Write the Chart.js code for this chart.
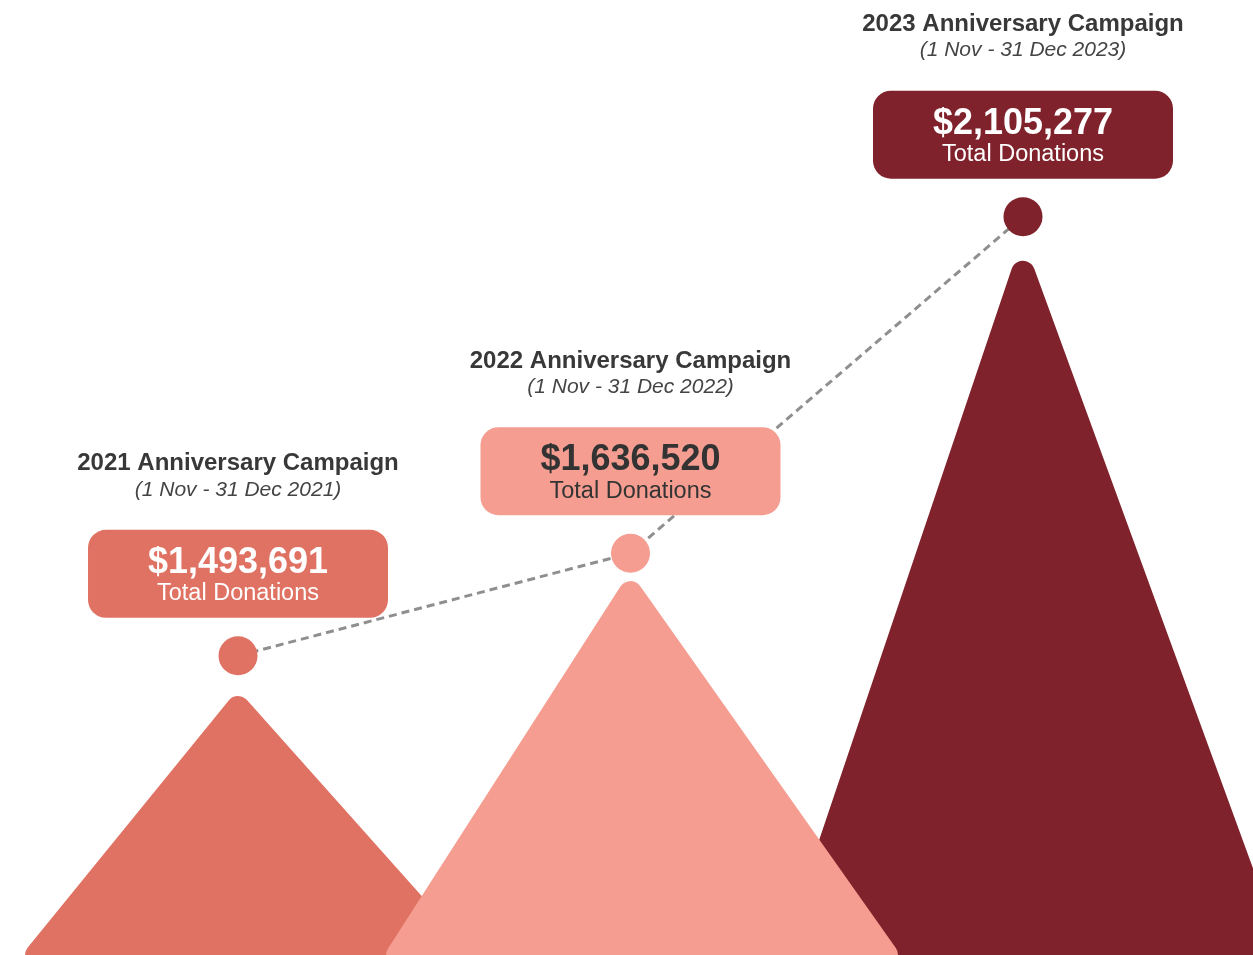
<!DOCTYPE html>
<html>
<head>
<meta charset="utf-8">
<script src="https://cdn.jsdelivr.net/npm/chart.js@4/dist/chart.umd.min.js"></script>
<style>
  html, body { margin: 0; padding: 0; background: #fff; }
  #wrap { width: 1253px; height: 955px; position: relative; }
</style>
</head>
<body>
<div id="wrap"><canvas id="chart"></canvas></div>
<script>
// Campaign data
const campaigns = ['2021 Anniversary Campaign', '2022 Anniversary Campaign', '2023 Anniversary Campaign'];
const periods = ['(1 Nov - 31 Dec 2021)', '(1 Nov - 31 Dec 2022)', '(1 Nov - 31 Dec 2023)'];
const donations = [1493691, 1636520, 2105277];

// Mountain under each campaign: peak height (same $ scale) and base spread left/right of the peak
const peakHeights = [1421000, 1581000, 2027000];
const spreadLeft = [0.512, 0.592, 0.586];
const spreadRight = [0.561, 0.651, 0.634];

const colors = ['#E07263', '#F49D90', '#80222B'];
const valueTextColors = ['#ffffff', '#333333', '#ffffff'];

const Y_MIN = 1077000;
const Y_MAX = 2407000;
const FONT = '"Liberation Sans", Arial, Helvetica, sans-serif';

// front-to-back drawing order of the mountains (middle one sits in front)
const mountainOrder = [2, 1, 3];

const mountainSets = donations.map((_, i) => ({
  label: campaigns[i],
  data: [
    { x: i - spreadLeft[i], y: Y_MIN },
    { x: i, y: peakHeights[i] },
    { x: i + spreadRight[i], y: Y_MIN }
  ],
  backgroundColor: colors[i],
  borderColor: colors[i],
  borderWidth: 24,
  borderJoinStyle: 'round',
  borderCapStyle: 'round',
  pointRadius: 0,
  fill: 'start',
  tension: 0,
  clip: false,
  order: mountainOrder[i]
}));

const trendSet = {
  label: 'Total Donations',
  data: donations.map((v, i) => ({ x: i, y: v })),
  borderColor: '#8f8f8f',
  borderWidth: 3,
  borderDash: [8, 5],
  fill: false,
  pointRadius: 19.5,
  pointHoverRadius: 19.5,
  pointBorderWidth: 0,
  pointBackgroundColor: colors,
  clip: false,
  order: 0
};

// Draw the title + value box above each dot
const labelPlugin = {
  id: 'campaignLabels',
  afterDatasetsDraw(chart) {
    const ctx = chart.ctx;
    const meta = chart.getDatasetMeta(mountainSets.length);
    meta.data.forEach((pt, i) => {
      const cx = pt.x;
      const boxW = 300, boxH = 88;
      const boxBottom = pt.y - 38;
      const boxTop = boxBottom - boxH;

      ctx.save();
      ctx.fillStyle = colors[i];
      ctx.beginPath();
      ctx.roundRect(cx - boxW / 2, boxTop, boxW, boxH, 18);
      ctx.fill();

      ctx.textAlign = 'center';
      ctx.textBaseline = 'middle';
      ctx.fillStyle = valueTextColors[i];
      ctx.font = 'bold 36px ' + FONT;
      ctx.fillText('$' + donations[i].toLocaleString('en-US'), cx, boxTop + 33);
      ctx.font = '23.5px ' + FONT;
      ctx.fillText('Total Donations', cx, boxTop + 64);

      ctx.fillStyle = '#383838';
      ctx.font = 'bold 24px ' + FONT;
      ctx.fillText(campaigns[i], cx, boxTop - 66);
      ctx.fillStyle = '#444444';
      ctx.font = 'italic 21px ' + FONT;
      ctx.fillText(periods[i], cx, boxTop - 40);
      ctx.restore();
    });
  }
};

const ctx = document.getElementById('chart').getContext('2d');
new Chart(ctx, {
  type: 'line',
  data: { datasets: [...mountainSets, trendSet] },
  options: {
    responsive: true,
    maintainAspectRatio: false,
    animation: false,
    layout: { padding: 0, autoPadding: false },
    scales: {
      x: { type: 'linear', display: false, min: -0.6064, max: 2.586 },
      y: { display: false, min: Y_MIN, max: Y_MAX }
    },
    plugins: {
      legend: { display: false },
      tooltip: { enabled: false }
    },
    events: []
  },
  plugins: [labelPlugin]
});
</script>
</body>
</html>
